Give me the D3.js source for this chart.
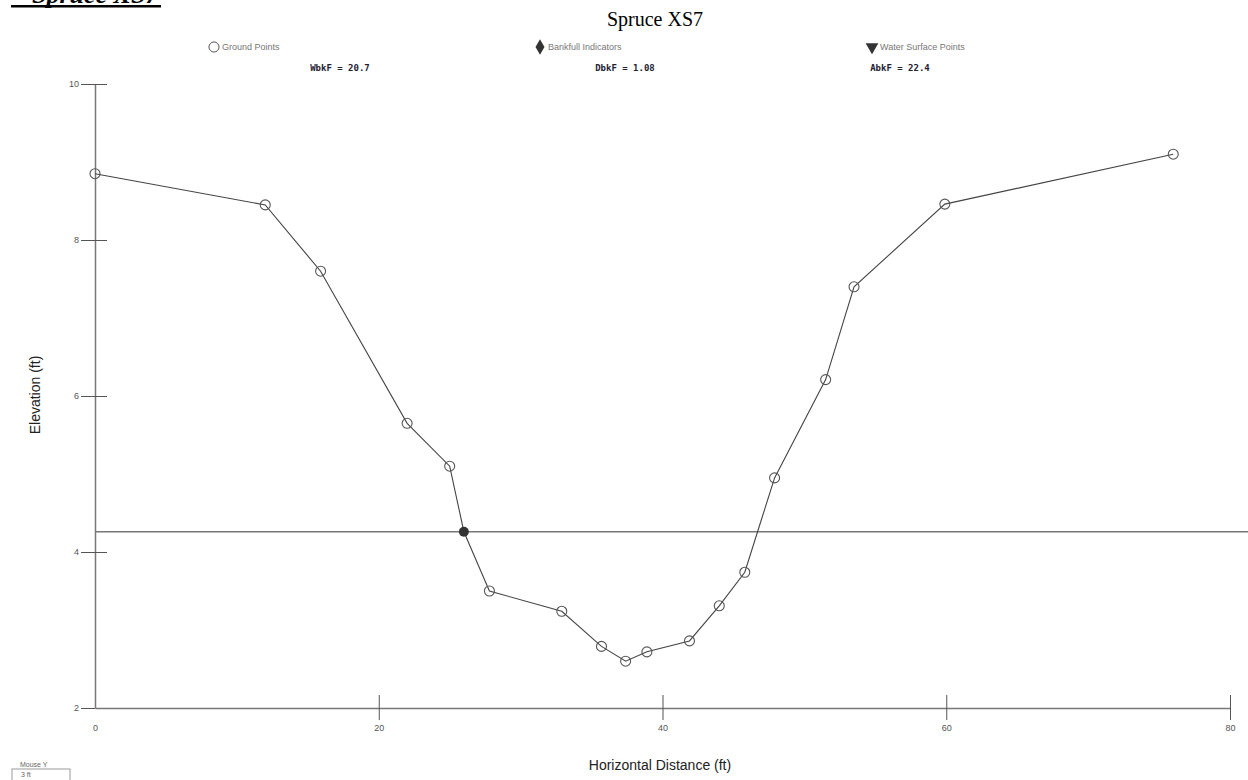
<!DOCTYPE html>
<html>
<head>
<meta charset="utf-8">
<script src="https://cdn.jsdelivr.net/npm/d3@7"></script>
<style>
  body { margin: 0; background: #fff; }
  svg { display: block; }
</style>
</head>
<body>
<svg></svg>
<script>
// ground survey points (ft)
let stations  = [0, 12.0, 15.9, 22.0, 25.0, 27.8, 32.9, 35.7, 37.4, 38.9, 41.9, 44.0, 45.8, 47.9, 51.5, 53.5, 59.9, 76.0];
let elevations = [8.85, 8.45, 7.60, 5.65, 5.10, 3.50, 3.24, 2.79, 2.60, 2.72, 2.86, 3.31, 3.74, 4.95, 6.21, 7.40, 8.46, 9.10];
// bankfull indicator
let bankfullStation = 26.0;
let bankfullElev = 4.26;
let xTicks = [0, 20, 40, 60, 80];
let yTicks = [2, 4, 6, 8, 10];
let legendItems = ["Ground Points", "Bankfull Indicators", "Water Surface Points"];
let statLabels = ["WbkF = 20.7", "DbkF = 1.08", "AbkF = 22.4"];

let width = 1248;
let height = 780;

let svg = d3.select("svg")
            .attr("width", width)
            .attr("height", height);

let xScale = d3.scaleLinear().domain([0, 80]).range([95, 1230]);
let yScale = d3.scaleLinear().domain([2, 10]).range([708, 84]);

// page heading, cut off at the top
svg.append("text")
   .attr("x", 32)
   .attr("y", 3)
   .style("font-family", "Liberation Serif, Times New Roman, serif")
   .style("font-weight", "bold")
   .style("font-style", "italic")
   .style("font-size", "26px")
   .text("Spruce XS7");
svg.append("rect")
   .attr("x", 11).attr("y", 5)
   .attr("width", 150).attr("height", 2.5)
   .attr("fill", "#000");

// chart title
svg.append("text")
   .attr("x", 655)
   .attr("y", 26)
   .attr("text-anchor", "middle")
   .style("font-family", "Liberation Serif, Times New Roman, serif")
   .style("font-size", "20px")
   .text("Spruce XS7");

// legend
let legendX = [214, 540, 872];
let legend = svg.append("g")
   .style("font-family", "Liberation Sans, Arial, sans-serif")
   .style("font-size", "9px")
   .attr("fill", "#777");
legendItems.forEach((label, i) => {
  let g = legend.append("g").attr("transform", `translate(${legendX[i]},47)`);
  g.append("path")
   .attr("d", d3.symbol().type([d3.symbolCircle, d3.symbolDiamond, d3.symbolTriangle][i]).size(i === 0 ? 80 : 70)())
   .attr("transform", i === 2 ? "rotate(180)" : null)
   .attr("fill", i === 0 ? "#fff" : "#333")
   .attr("stroke", i === 0 ? "#555" : "none");
  g.append("text")
   .attr("x", 8)
   .attr("dy", "0.35em")
   .text(label);
});

// bankfull stats
let statX = [340, 625, 900];
svg.selectAll(".stat")
   .data(statLabels)
   .enter()
   .append("text")
   .attr("class", "stat")
   .attr("x", (d, i) => statX[i])
   .attr("y", 71)
   .attr("text-anchor", "middle")
   .style("font-family", "DejaVu Sans Mono, monospace")
   .style("font-weight", "bold")
   .style("font-size", "9px")
   .attr("fill", "#223")
   .text(d => d);

// x axis
let xAxis = svg.append("g")
   .attr("transform", `translate(0,${yScale(2)})`)
   .call(d3.axisBottom(xScale).tickValues(xTicks).tickSize(12).tickSizeOuter(0));
xAxis.selectAll(".tick line")
   .attr("y1", d => d === 0 ? 0 : -13)
   .attr("y2", d => d === 0 ? 0 : 12);
xAxis.selectAll(".tick text").attr("dy", "0.9em");

// y axis
let yAxis = svg.append("g")
   .attr("transform", `translate(${xScale(0)},0)`)
   .call(d3.axisLeft(yScale).tickValues(yTicks).tickSize(14).tickSizeOuter(0));
yAxis.selectAll(".tick line")
   .attr("x1", -14)
   .attr("x2", d => d === 2 ? 0 : 12);
yAxis.selectAll(".tick text").attr("x", -16);

svg.selectAll(".domain").attr("stroke", "#777").attr("stroke-width", 1.5);
svg.selectAll(".tick line").attr("stroke", "#555");
svg.selectAll(".tick text")
   .attr("fill", "#555")
   .style("font-family", "Liberation Sans, Arial, sans-serif")
   .style("font-size", "9px");

// axis labels
svg.append("text")
   .attr("transform", "rotate(-90)")
   .attr("x", -395)
   .attr("y", 40)
   .attr("text-anchor", "middle")
   .style("font-family", "Liberation Sans, Arial, sans-serif")
   .style("font-size", "14px")
   .attr("fill", "#222")
   .text("Elevation (ft)");

svg.append("text")
   .attr("x", 660)
   .attr("y", 770)
   .attr("text-anchor", "middle")
   .style("font-family", "Liberation Sans, Arial, sans-serif")
   .style("font-size", "14px")
   .attr("fill", "#222")
   .text("Horizontal Distance (ft)");

// bankfull line
svg.append("line")
   .attr("x1", xScale(0))
   .attr("x2", width)
   .attr("y1", yScale(bankfullElev))
   .attr("y2", yScale(bankfullElev))
   .attr("stroke", "#777")
   .attr("stroke-width", 1.5);

// ground profile, bankfull point sits on it
let profile = stations.map((s, i) => ({x: s, y: elevations[i]}));
let linePts = profile.slice();
linePts.splice(5, 0, {x: bankfullStation, y: bankfullElev});

svg.append("path")
   .datum(linePts)
   .attr("fill", "none")
   .attr("stroke", "#444")
   .attr("stroke-width", 1.1)
   .attr("d", d3.line().x(d => xScale(d.x)).y(d => yScale(d.y)));

svg.selectAll(".ground")
   .data(profile)
   .enter()
   .append("circle")
   .attr("class", "ground")
   .attr("cx", d => xScale(d.x))
   .attr("cy", d => yScale(d.y))
   .attr("r", 5)
   .attr("fill", "none")
   .attr("stroke", "#555")
   .attr("stroke-width", 1.1);

svg.append("circle")
   .attr("cx", xScale(bankfullStation))
   .attr("cy", yScale(bankfullElev))
   .attr("r", 5)
   .attr("fill", "#333");

// mouse readout box
let mouse = svg.append("g")
   .style("font-family", "Liberation Sans, Arial, sans-serif")
   .style("font-size", "7px")
   .attr("fill", "#666");
mouse.append("text").attr("x", 20).attr("y", 767).text("Mouse Y");
mouse.append("rect")
   .attr("x", 12).attr("y", 769)
   .attr("width", 58).attr("height", 12)
   .attr("fill", "none").attr("stroke", "#999");
mouse.append("text").attr("x", 21).attr("y", 777).text("3 ft");
</script>
</body>
</html>
